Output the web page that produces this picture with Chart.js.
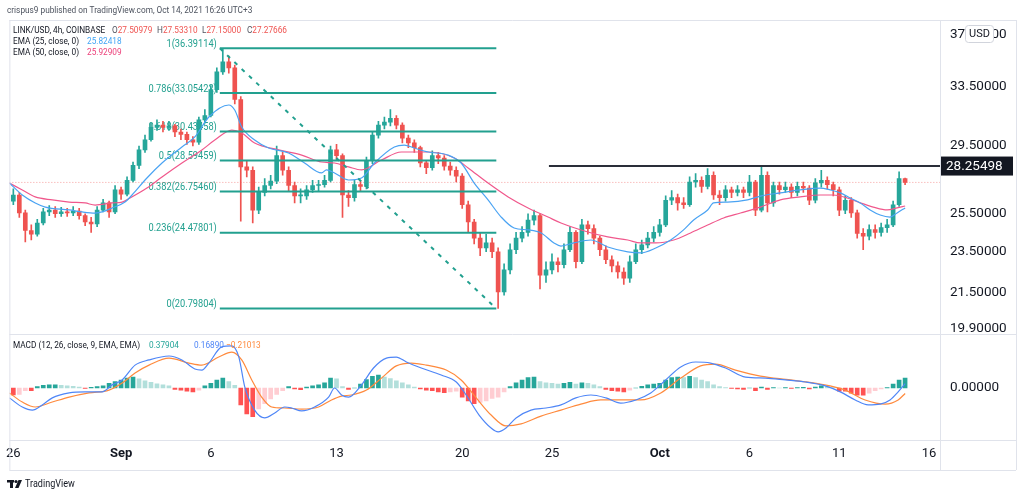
<!DOCTYPE html>
<html>
<head>
<meta charset="utf-8">
<script src="https://cdn.jsdelivr.net/npm/chart.js@4"></script>
<style>
  html, body { margin: 0; padding: 0; background: #fff; }
  #wrap { width: 1024px; height: 496px; }
</style>
</head>
<body>
<div id="wrap"><canvas id="chart" width="1024" height="496"></canvas></div>
<script>
// x values are days counted from Sep 1 2021, one candle every 8h
var firstBarDay = -6;
var barSpan = 1 / 3;

var opens = [26.2, 26.55, 25.55, 24.6, 24.4, 25.0, 25.6, 25.7, 25.5, 25.6,
  25.55, 25.65, 25.4, 25.05, 24.95, 25.7, 26.1, 25.6, 26.85, 26.6,
  27.4, 28.3, 29.25, 29.9, 30.7, 30.85, 30.7, 30.8, 30.4, 30.25,
  29.9, 29.75, 31.2, 31.5, 33.3, 34.6, 35.35, 34.9, 32.6, 28.2,
  28.0, 25.7, 26.7, 27.1, 27.35, 28.9, 28.0, 27.1, 26.5, 26.5,
  26.85, 27.1, 27.15, 27.4, 29.25, 28.9, 26.55, 26.4, 27.15, 27.05,
  28.6, 30.2, 30.85, 31.05, 31.3, 30.85, 30.0, 29.7, 29.4, 28.45,
  28.15, 28.9, 28.75, 28.25, 28.0, 27.65, 26.0, 25.05, 24.2, 23.7,
  23.95, 23.5, 21.55, 22.6, 23.6, 24.2, 24.5, 25.15, 25.4, 22.35,
  22.6, 23.0, 22.85, 23.6, 24.5, 23.0, 24.9, 24.7, 24.2, 23.6,
  23.1, 22.8, 22.5, 22.2, 23.0, 23.6, 23.85, 24.2, 24.5, 24.9,
  26.25, 26.4, 26.1, 26.0, 27.3, 27.4, 27.05, 27.7, 26.55, 26.4,
  26.85, 26.7, 26.85, 26.7, 27.3, 25.7, 27.7, 26.1, 27.1, 26.85,
  27.0, 26.7, 27.05, 26.95, 26.25, 27.25, 27.4, 27.15, 26.85, 25.7,
  26.25, 25.55, 24.45, 24.3, 24.65, 24.5, 24.75, 24.9, 26.0, 27.50979];

var highs = [26.9, 26.7, 25.7, 24.9, 25.2, 25.8, 25.95, 25.9, 25.85, 25.8,
  25.9, 25.8, 25.5, 25.3, 25.9, 26.3, 26.2, 27.1, 27.0, 27.6,
  28.5, 29.5, 30.2, 31.0, 31.2, 31.1, 31.1, 30.9, 30.6, 30.4,
  30.1, 31.4, 31.9, 33.6, 34.9, 36.39, 35.8, 35.1, 32.8, 28.6,
  28.2, 27.0, 27.5, 27.7, 29.5, 29.1, 28.2, 27.3, 26.9, 27.1,
  27.4, 27.4, 27.7, 29.5, 29.6, 29.0, 26.8, 27.4, 27.4, 28.8,
  30.4, 31.1, 31.4, 31.9, 31.5, 31.0, 30.2, 29.9, 29.5, 28.6,
  29.2, 29.1, 28.9, 28.5, 28.2, 27.8, 26.2, 25.2, 24.5, 24.4,
  24.2, 23.7, 22.9, 23.9, 24.5, 24.8, 25.5, 25.7, 25.5, 23.0,
  23.4, 23.2, 23.9, 24.8, 24.6, 25.2, 25.1, 24.9, 24.3, 23.8,
  23.3, 23.0, 22.7, 23.3, 23.9, 24.1, 24.5, 24.8, 25.2, 26.5,
  26.8, 26.6, 26.4, 27.6, 27.8, 27.6, 28.1, 27.9, 26.8, 27.1,
  27.0, 27.1, 27.0, 27.7, 27.4, 28.2, 27.9, 27.3, 27.3, 27.3,
  27.2, 27.3, 27.3, 27.1, 27.5, 28.0, 27.6, 27.3, 27.0, 26.5,
  26.4, 25.7, 24.7, 24.9, 24.9, 25.0, 25.2, 26.2, 27.9, 27.5331];

var lows = [26.0, 25.3, 24.0, 24.1, 24.3, 24.9, 25.4, 25.3, 25.35, 25.35,
  25.4, 25.2, 24.85, 24.5, 24.8, 25.6, 25.3, 25.5, 26.3, 26.5,
  27.3, 28.1, 29.1, 29.8, 30.5, 30.4, 30.5, 30.1, 29.9, 29.6,
  29.5, 29.6, 31.0, 31.4, 33.1, 34.4, 34.5, 32.3, 25.1, 27.6,
  25.0, 25.5, 26.5, 26.9, 27.2, 27.7, 26.8, 26.1, 26.1, 26.3,
  26.7, 26.8, 27.0, 27.3, 28.6, 25.3, 25.9, 26.2, 26.8, 26.9,
  28.4, 30.0, 30.6, 30.8, 30.6, 29.7, 29.4, 29.1, 28.2, 27.8,
  28.0, 28.4, 28.0, 27.7, 27.3, 25.8, 24.5, 23.9, 23.3, 23.5,
  23.2, 20.8, 21.4, 22.4, 23.4, 24.0, 24.3, 24.9, 21.7, 22.0,
  22.4, 22.5, 22.7, 23.5, 22.7, 22.9, 24.4, 23.9, 23.3, 22.9,
  22.5, 22.2, 21.9, 22.0, 22.9, 23.4, 23.7, 24.0, 24.3, 24.8,
  26.0, 25.7, 25.8, 25.9, 27.0, 26.7, 26.9, 26.3, 26.0, 26.2,
  26.4, 26.5, 26.4, 26.5, 25.4, 25.6, 25.6, 25.9, 26.6, 26.7,
  26.4, 26.5, 26.7, 26.0, 26.1, 27.0, 26.9, 26.5, 25.4, 25.5,
  25.3, 24.2, 23.6, 24.1, 24.2, 24.3, 24.5, 24.8, 25.9, 27.15];

var closes = [26.55, 25.55, 24.6, 24.4, 25.0, 25.6, 25.7, 25.5, 25.6, 25.55,
  25.65, 25.4, 25.05, 24.95, 25.7, 26.1, 25.6, 26.85, 26.6, 27.4,
  28.3, 29.25, 29.9, 30.7, 30.85, 30.7, 30.8, 30.4, 30.25, 29.9,
  29.75, 31.2, 31.5, 33.3, 34.6, 35.35, 34.9, 32.6, 28.2, 28.0,
  25.7, 26.7, 27.1, 27.35, 28.9, 28.0, 27.1, 26.5, 26.5, 26.85,
  27.1, 27.15, 27.4, 29.25, 28.9, 26.55, 26.4, 27.15, 27.05, 28.6,
  30.2, 30.85, 31.05, 31.3, 30.85, 30.0, 29.7, 29.4, 28.45, 28.15,
  28.9, 28.75, 28.25, 28.0, 27.65, 26.0, 25.05, 24.2, 23.7, 23.95,
  23.5, 21.55, 22.6, 23.6, 24.2, 24.5, 25.15, 25.4, 22.35, 22.6,
  23.0, 22.85, 23.6, 24.5, 23.0, 24.9, 24.7, 24.2, 23.6, 23.1,
  22.8, 22.5, 22.2, 23.0, 23.6, 23.85, 24.2, 24.5, 24.9, 26.25,
  26.4, 26.1, 26.0, 27.3, 27.4, 27.05, 27.7, 26.55, 26.4, 26.85,
  26.7, 26.85, 26.7, 27.3, 25.7, 27.7, 26.1, 27.1, 26.85, 27.0,
  26.7, 27.05, 26.95, 26.25, 27.25, 27.4, 27.15, 26.85, 25.7, 26.25,
  25.55, 24.45, 24.3, 24.65, 24.5, 24.75, 24.9, 26.0, 27.50979, 27.27666];

var ema25Days = [-6.22, -5.5, -4.78, -4.22, -2.89, -2.17, -1.44, -1.06, -0.5, 0.22,
  0.61, 1.44, 2.28, 3.39, 4.11, 4.89, 6.0, 6.33, 6.72, 7.44,
  8.22, 9.33, 10.22, 11.17, 11.44, 11.89, 12.67, 13.39, 14.11, 15.22,
  15.78, 16.33, 17.11, 18.22, 18.94, 19.67, 20.44, 21.17, 21.89, 22.67,
  23.39, 24.11, 24.5, 25.22, 26.17, 27.11, 28.22, 28.94, 29.78, 30.61,
  31.33, 31.89, 32.67, 33.0, 33.78, 34.89, 35.61, 36.72, 37.83, 38.94,
  39.5, 40.06, 40.61, 41.17, 41.72, 42.28, 42.83, 43.22, 43.67];
var ema25 = [27.24, 26.55, 26.10, 25.87, 25.71, 25.60, 25.54, 25.60, 25.82, 26.15,
  26.55, 27.54, 28.44, 29.44, 30.08, 31.40, 32.22, 31.87, 30.73, 29.88,
  29.37, 29.06, 28.44, 27.84, 28.02, 27.84, 27.42, 27.54, 28.44, 29.44,
  29.56, 29.37, 29.12, 28.93, 28.44, 27.24, 26.27, 25.32, 24.73, 24.63,
  24.47, 23.95, 23.79, 23.95, 24.10, 23.74, 23.49, 23.44, 23.69, 24.10,
  24.63, 25.16, 25.71, 26.10, 26.15, 26.27, 26.49, 26.67, 26.84, 26.95,
  26.84, 26.67, 26.38, 26.10, 25.71, 25.43, 25.32, 25.54, 25.82418];

var ema50Days = [-6.22, -5.5, -4.78, -3.83, -2.89, -2.0, -1.44, -0.5, 0.06, 0.5,
  1.44, 2.28, 3.39, 4.5, 5.22, 6.17, 6.72, 7.44, 8.78, 10.06,
  11.17, 11.89, 12.67, 13.39, 14.5, 15.61, 17.11, 18.56, 19.33, 20.44,
  21.56, 22.67, 23.78, 24.5, 26.0, 27.11, 28.22, 28.94, 29.78, 30.78,
  31.72, 32.67, 33.56, 34.5, 35.61, 36.72, 37.83, 38.94, 39.67, 40.44,
  41.17, 41.89, 42.67, 43.22, 43.67];
var ema50 = [27.24, 26.84, 26.44, 26.27, 26.15, 26.10, 25.98, 26.10, 26.15, 26.38,
  26.95, 27.60, 28.44, 29.25, 29.88, 30.53, 30.34, 29.69, 29.25, 28.93,
  28.50, 28.44, 28.20, 28.02, 28.62, 29.12, 29.12, 28.75, 28.14, 27.24,
  26.44, 25.82, 25.32, 25.0, 24.52, 24.26, 24.10, 23.95, 23.95, 24.10,
  24.47, 24.89, 25.27, 25.54, 25.87, 26.27, 26.44, 26.55, 26.55, 26.38,
  26.10, 25.87, 25.71, 25.82, 25.92909];

var macdDays = [-6.22, -5.5, -4.94, -4.39, -3.83, -2.89, -2.0, -1.06, -0.5, 0.06,
  0.78, 1.56, 2.67, 3.39, 4.11, 4.5, 4.89, 5.61, 6.17, 6.56,
  6.89, 7.44, 8.0, 8.56, 9.11, 9.5, 10.06, 10.78, 11.56, 11.89,
  12.28, 12.67, 13.39, 14.06, 14.78, 15.33, 15.89, 16.72, 17.83, 18.67,
  19.22, 19.94, 20.61, 21.0, 21.44, 22.0, 22.83, 23.67, 24.5, 25.33,
  26.17, 27.0, 27.83, 28.67, 29.5, 30.33, 31.17, 32.0, 32.83, 33.67,
  34.78, 35.89, 37.0, 38.11, 39.22, 40.06, 40.89, 41.61, 42.28, 42.83,
  43.28, 43.67];
var macdLine = [-0.38, -0.73, -0.85, -0.65, -0.38, -0.19, -0.15, -0.15, 0.12, 0.31,
  0.88, 1.08, 1.23, 1.08, 0.73, 0.69, 0.96, 1.58, 1.62, 1.19,
  0.04, -0.85, -1.15, -0.96, -0.73, -0.77, -0.88, -0.73, -0.35, 0.0,
  -0.27, -0.35, 0.12, 0.77, 1.15, 1.19, 1.0, 0.77, 0.5, 0.23,
  -0.27, -1.04, -1.54, -1.69, -1.54, -1.15, -0.85, -0.77, -0.65, -0.38,
  -0.27, -0.38, -0.58, -0.46, -0.19, 0.31, 0.81, 1.0, 0.96, 0.77,
  0.42, 0.38, 0.31, 0.23, 0.08, -0.15, -0.46, -0.65, -0.62, -0.46,
  -0.15, 0.1689];

var signalDays = [-6.22, -5.5, -4.78, -3.83, -2.89, -1.78, -0.67, 0.06, 0.78, 1.56,
  2.67, 3.78, 4.5, 5.44, 6.17, 6.72, 7.28, 7.83, 8.39, 9.11,
  10.06, 11.0, 11.72, 12.28, 12.83, 13.67, 14.5, 15.33, 16.17, 17.0,
  18.11, 18.94, 19.78, 20.61, 21.44, 22.28, 23.39, 24.5, 25.61, 26.72,
  27.83, 28.94, 30.06, 31.17, 32.28, 33.11, 34.22, 35.61, 37.28, 38.94,
  40.33, 41.44, 42.56, 43.28, 43.67];
var signalLine = [-0.19, -0.54, -0.73, -0.54, -0.35, -0.19, -0.08, 0.19, 0.58, 0.88,
  1.15, 0.96, 0.88, 1.19, 1.38, 1.08, 0.31, -0.35, -0.73, -0.77,
  -0.81, -0.73, -0.46, -0.31, -0.27, -0.08, 0.38, 0.85, 0.96, 0.88,
  0.69, 0.31, -0.38, -1.04, -1.46, -1.38, -1.08, -0.85, -0.62, -0.46,
  -0.46, -0.46, -0.19, 0.38, 0.85, 0.92, 0.69, 0.46, 0.31, 0.15,
  -0.08, -0.46, -0.62, -0.46, -0.21013];

// one histogram bar per candle
var histogram = [-0.27, -0.25, -0.1, -0.1, 0.05, 0.1, 0.12, 0.12, 0.1, 0.08,
  0.06, 0.04, -0.02, 0.03, 0.05, 0.08, 0.18, 0.25, 0.3, 0.38,
  0.42, 0.35, 0.28, 0.22, 0.16, 0.12, 0.08, -0.05, -0.08, -0.12,
  -0.15, -0.08, 0.08, 0.18, 0.3, 0.38, 0.25, 0.1, -0.65, -1.0,
  -1.1, -0.8, -0.6, -0.42, -0.25, -0.1, 0.05, -0.04, -0.06, 0.04,
  0.08, 0.12, 0.2, 0.38, 0.35, 0.05, -0.05, 0.0, 0.15, 0.32,
  0.45, 0.5, 0.42, 0.36, 0.28, 0.2, 0.12, 0.04, -0.04, -0.08,
  -0.1, -0.15, -0.18, -0.15, -0.12, -0.35, -0.5, -0.6, -0.55, -0.5,
  -0.4, -0.35, -0.15, 0.05, 0.2, 0.3, 0.4, 0.42, 0.25, 0.2,
  0.18, 0.15, 0.18, 0.22, 0.15, 0.2, 0.18, 0.12, 0.05, -0.05,
  -0.1, -0.12, -0.15, -0.08, 0.0, 0.06, 0.12, 0.15, 0.18, 0.3,
  0.4, 0.42, 0.4, 0.45, 0.4, 0.3, 0.25, 0.12, 0.05, 0.02,
  -0.02, -0.04, -0.05, 0.0, -0.1, 0.04, -0.05, 0.02, 0.0, 0.02,
  -0.02, 0.02, 0.03, -0.04, 0.04, 0.08, 0.06, 0.02, -0.12, -0.12,
  -0.2, -0.28, -0.28, -0.2, -0.1, -0.04, 0.02, 0.15, 0.3, 0.37904];

var fibRatios = ['1', '0.786', '0.618', '0.5', '0.382', '0.236', '0'];
var fibPrices = [36.39114, 33.05422, 30.43458, 28.59459, 26.75460, 24.47801, 20.79804];
var fibFromDay = 5.5;
var fibToDay = 20.9;

var resistancePrice = 28.25498;
var resistanceFromDay = 23.83;
var lastPrice = 27.27666;

var priceTicks = [19.9, 21.5, 23.5, 25.5, 29.5, 33.5, 37.5];
var dayTicks = [-6, 0, 5, 12, 19, 24, 30, 35, 40, 45];
var dayTickLabels = ['26', 'Sep', '6', '13', '20', '25', 'Oct', '6', '11', '16'];
var xMin = -6.222;
var xMax = 45.611;

var UP = '#26a69a';
var DOWN = '#ef5350';
var FIB = '#22a08f';
var FONT = 'Roboto, "Noto Sans", sans-serif';
var SQUEEZE = 0.86;

function barDay(i) {
  return firstBarDay + i * barSpan;
}

function points(days, values) {
  return values.map(function (v, i) {
    return { x: days[i], y: v };
  });
}

function candleColor(ctx) {
  var i = ctx.dataIndex;
  return closes[i] >= opens[i] ? UP : DOWN;
}

function histColor(ctx) {
  var i = ctx.dataIndex;
  var v = histogram[i];
  var prev = i > 0 ? histogram[i - 1] : v;
  if (v >= 0) {
    return v >= prev ? '#26a69a' : '#b2dfdb';
  }
  return v <= prev ? '#ff5252' : '#ffcdd2';
}

function lineSet(data, color, width, axis, order) {
  return {
    type: 'line',
    data: data,
    yAxisID: axis,
    borderColor: color,
    borderWidth: width,
    pointRadius: 0,
    cubicInterpolationMode: 'monotone',
    order: order,
  };
}

var datasets = [];

fibPrices.forEach(function (p) {
  datasets.push(lineSet([{ x: fibFromDay, y: p }, { x: fibToDay, y: p }], FIB, 2, 'y', 1));
});

var diagonal = lineSet(
  [{ x: fibFromDay, y: fibPrices[0] }, { x: fibToDay, y: fibPrices[fibPrices.length - 1] }],
  FIB, 2, 'y', 1
);
diagonal.borderDash = [4, 6];
datasets.push(diagonal);

datasets.push(lineSet([{ x: resistanceFromDay, y: resistancePrice }, { x: xMax, y: resistancePrice }], '#2a2e39', 2, 'y', 1));

datasets.push(lineSet(points(ema25Days, ema25), '#4aa3f3', 1.2, 'y', 2));
datasets.push(lineSet(points(ema50Days, ema50), '#f0588c', 1.2, 'y', 2));

datasets.push({
  type: 'bar',
  yAxisID: 'y',
  data: closes.map(function (c, i) { return { x: barDay(i), y: [opens[i], c] }; }),
  backgroundColor: candleColor,
  barThickness: 4,
  minBarLength: 1,
  grouped: false,
  order: 3,
});

datasets.push({
  type: 'bar',
  yAxisID: 'y',
  data: closes.map(function (c, i) { return { x: barDay(i), y: [lows[i], highs[i]] }; }),
  backgroundColor: candleColor,
  barThickness: 1,
  grouped: false,
  order: 4,
});

var lastLine = lineSet([{ x: xMin, y: lastPrice }, { x: xMax, y: lastPrice }], 'rgba(239,83,80,0.55)', 1, 'y', 6);
lastLine.borderDash = [1, 2];
datasets.push(lastLine);

datasets.push(lineSet(points(macdDays, macdLine), '#4f86f7', 1.2, 'yMacd', 1));
datasets.push(lineSet(points(signalDays, signalLine), '#ff8a3d', 1.2, 'yMacd', 1));

datasets.push({
  type: 'bar',
  yAxisID: 'yMacd',
  data: histogram.map(function (v, i) { return { x: barDay(i), y: v }; }),
  backgroundColor: histColor,
  barThickness: 4,
  grouped: false,
  order: 5,
});

// small TradingView legend text, slightly condensed like the original
function label(ctx, str, x, y, color, size, align, squeeze, weight) {
  var sx = squeeze || 1;
  ctx.save();
  ctx.font = (weight || 'normal') + ' ' + size + 'px ' + FONT;
  ctx.fillStyle = color;
  ctx.textAlign = align || 'left';
  ctx.textBaseline = 'middle';
  ctx.translate(x, y);
  ctx.scale(sx, 1);
  ctx.fillText(str, 0, 0);
  var w = ctx.measureText(str).width * sx;
  ctx.restore();
  return x + w;
}

function small(ctx, str, x, y, color) {
  return label(ctx, str, x, y, color, 9.6, 'left', SQUEEZE);
}

function pair(ctx, letter, value, x, y) {
  var end = small(ctx, letter, x, y, '#50535e');
  small(ctx, value, end, y, DOWN);
}

var decor = {
  id: 'decor',
  beforeDatasetsDraw: function (chart) {
    var ctx = chart.ctx;
    var xs = chart.scales.x;
    var ys = chart.scales.y;
    fibPrices.forEach(function (p, i) {
      label(ctx, fibRatios[i] + '(' + p.toFixed(5) + ')', xs.getPixelForValue(fibFromDay) - 3,
        ys.getPixelForValue(p) - 4, FIB, 10.5, 'right', 0.88);
    });
  },
  afterDraw: function (chart) {
    var ctx = chart.ctx;
    var area = chart.chartArea;
    var xs = chart.scales.x;
    var ys = chart.scales.y;
    var ym = chart.scales.yMacd;
    var left = area.left;
    var right = ys.right;
    ctx.save();

    // pane frame
    ctx.strokeStyle = '#e0e3eb';
    ctx.lineWidth = 1;
    ctx.beginPath();
    [area.top, Math.round(ym.top), area.bottom, xs.bottom].forEach(function (y) {
      ctx.moveTo(left, y + 0.5);
      ctx.lineTo(right, y + 0.5);
    });
    [left, area.right, right].forEach(function (x) {
      ctx.moveTo(x + 0.5, area.top);
      ctx.lineTo(x + 0.5, xs.bottom);
    });
    ctx.stroke();

    small(ctx, 'crispus9 published on TradingView.com, Oct 14, 2021 16:26 UTC+3', 7, 11, '#4c525e');

    small(ctx, 'LINK/USD, 4h, COINBASE', 13, 30.5, '#131722');
    pair(ctx, 'O', '27.50979', 112, 30.5);
    pair(ctx, 'H', '27.53310', 157, 30.5);
    pair(ctx, 'L', '27.15000', 202, 30.5);
    pair(ctx, 'C', '27.27666', 247, 30.5);
    small(ctx, 'EMA (25, close, 0)', 13, 42, '#131722');
    small(ctx, '25.82418', 87, 42, '#42a5f5');
    small(ctx, 'EMA (50, close, 0)', 13, 53, '#131722');
    small(ctx, '25.92909', 87, 53, '#ec407a');

    small(ctx, 'MACD (12, 26, close, 9, EMA, EMA)', 13, 346, '#131722');
    small(ctx, '0.37904', 149, 346, '#26a69a');
    small(ctx, '0.16890', 194, 346, '#4f86f7');
    small(ctx, '\u22120.21013', 226, 346, '#ff8a3d');

    // last resistance value on the price axis
    var ry = ys.getPixelForValue(resistancePrice);
    ctx.fillStyle = '#131722';
    ctx.fillRect(area.right + 1, ry - 9.5, 72, 19);
    label(ctx, resistancePrice.toFixed(5), area.right + 6, ry + 0.5, '#ffffff', 13.5);

    // currency badge
    ctx.fillStyle = '#ffffff';
    ctx.strokeStyle = '#d1d4dc';
    ctx.beginPath();
    ctx.roundRect(965.5, 25.5, 28, 17, 3);
    ctx.fill();
    ctx.stroke();
    label(ctx, 'USD', 979.5, 34, '#131722', 11, 'center');

    // TradingView mark
    ctx.fillStyle = '#131722';
    ctx.fillRect(7, 480, 7, 2.5);
    ctx.fillRect(10, 480, 3, 8);
    ctx.beginPath();
    ctx.arc(16, 481.5, 1.6, 0, Math.PI * 2);
    ctx.fill();
    ctx.beginPath();
    ctx.moveTo(18.5, 480);
    ctx.lineTo(22, 480);
    ctx.lineTo(18.5, 488);
    ctx.lineTo(15, 488);
    ctx.closePath();
    ctx.fill();
    label(ctx, 'TradingView', 25, 484, '#131722', 10.5, 'left', SQUEEZE);

    ctx.restore();
  },
};

new Chart(document.getElementById('chart'), {
  type: 'bar',
  data: { datasets: datasets },
  plugins: [decor],
  options: {
    responsive: false,
    animation: false,
    events: [],
    layout: { padding: { left: 7, top: 20, right: 8, bottom: 26 } },
    plugins: {
      legend: { display: false },
      tooltip: { enabled: false },
    },
    scales: {
      x: {
        type: 'linear',
        min: xMin,
        max: xMax,
        offset: false,
        bounds: 'data',
        grid: { display: false, drawTicks: false },
        border: { display: false },
        afterBuildTicks: function (scale) {
          scale.ticks = dayTicks.map(function (v) { return { value: v }; });
        },
        afterFit: function (scale) {
          scale.height = 30;
        },
        ticks: {
          autoSkip: false,
          maxRotation: 0,
          padding: 6,
          color: '#131722',
          font: function (ctx) {
            var bold = ctx.tick && (ctx.tick.value === 0 || ctx.tick.value === 30);
            return { family: FONT, size: 13, weight: bold ? 'bold' : 'normal' };
          },
          callback: function (value) {
            return dayTickLabels[dayTicks.indexOf(value)];
          },
        },
      },
      y: {
        type: 'logarithmic',
        position: 'right',
        stack: 'panes',
        stackWeight: 314,
        min: 19.69,
        max: 38.68,
        bounds: 'data',
        grid: { display: false, drawTicks: false },
        border: { display: false },
        afterBuildTicks: function (scale) {
          scale.ticks = priceTicks.map(function (v) { return { value: v }; });
        },
        afterFit: function (scale) {
          scale.width = 76;
        },
        ticks: {
          autoSkip: false,
          padding: 10,
          color: '#131722',
          font: { family: FONT, size: 13.5 },
          callback: function (value) {
            return Number(value).toFixed(5);
          },
        },
      },
      yMacd: {
        type: 'linear',
        position: 'right',
        stack: 'panes',
        stackWeight: 106,
        min: -2.0,
        max: 2.077,
        bounds: 'data',
        grid: { display: false, drawTicks: false },
        border: { display: false },
        afterBuildTicks: function (scale) {
          scale.ticks = [{ value: 0 }];
        },
        afterFit: function (scale) {
          scale.width = 76;
        },
        ticks: {
          padding: 10,
          color: '#131722',
          font: { family: FONT, size: 13.5 },
          callback: function (value) {
            return Number(value).toFixed(5);
          },
        },
      },
    },
  },
});
</script>
</body>
</html>
